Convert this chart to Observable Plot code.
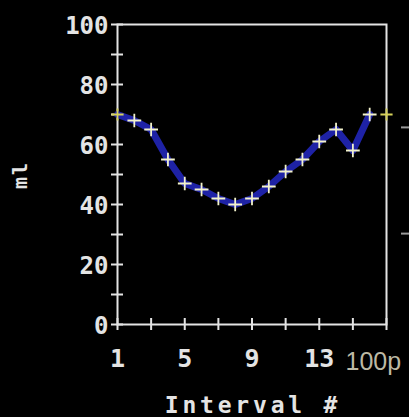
<!DOCTYPE html>
<html>
<head>
<meta charset="utf-8">
<script src="https://cdn.jsdelivr.net/npm/d3@7"></script>
<script src="https://cdn.jsdelivr.net/npm/@observablehq/plot@0.6"></script>
<style>
  html, body { margin: 0; padding: 0; background: #000; }
  #chart { width: 409px; height: 417px; overflow: hidden; }
  svg { display: block; }
</style>
</head>
<body>
<div id="chart"></div>
<script>
// Data
const intervals = [1, 2, 3, 4, 5, 6, 7, 8, 9, 10, 11, 12, 13, 14, 15, 16];
const volumes   = [70, 68, 65, 55, 47, 45, 42, 40, 42, 46, 51, 55, 61, 65, 58, 70];
const endIntervals = [1, 17];
const endVolumes = [70, 70];

const yMinorTicks = [0, 10, 20, 30, 40, 50, 60, 70, 80, 90, 100];
const yLabels = [0, 20, 40, 60, 80, 100];
const xMinorTicks = [1, 3, 5, 7, 9, 11, 13, 15, 17];
const xLabels = [1, 5, 9, 13];
const rightTicks = [65.7, 30.3];   // partial axis of neighbouring chart
const clippedLabel = ["100p"];

const yTitle = "ml";
const xTitle = "Interval #";

const series = intervals.map((x, i) => ({x, y: volumes[i]}));
const inner = series.slice(1);
const ends = endIntervals.map((x, i) => ({x, y: endVolumes[i]}));

const AXIS = "#e4e4e4";
const MONO = "'DejaVu Sans Mono', 'Liberation Mono', monospace";

const chart = Plot.plot({
  width: 409,
  height: 417,
  marginLeft: 117,
  marginRight: 23,
  marginTop: 24,
  marginBottom: 93,
  style: {background: "#000", color: AXIS, fontFamily: MONO, overflow: "visible"},
  x: {domain: [1, 17], axis: null},
  y: {domain: [0, 100], axis: null},
  marks: [
    Plot.frame({stroke: AXIS, strokeWidth: 2}),
    // y ticks crossing the axis
    Plot.axisY({ticks: yMinorTicks, tickSize: 6, tickFormat: () => "", stroke: AXIS, strokeWidth: 2, label: null}),
    Plot.axisY({ticks: yMinorTicks, tickSize: 6, dx: 6, tickFormat: () => "", stroke: AXIS, strokeWidth: 2, label: null}),
    // x ticks crossing the axis
    Plot.axisX({ticks: xMinorTicks, tickSize: 6, tickFormat: () => "", stroke: AXIS, strokeWidth: 2, label: null}),
    Plot.axisX({ticks: xMinorTicks, tickSize: 6, dy: -6, tickFormat: () => "", stroke: AXIS, strokeWidth: 2, label: null}),
    // neighbouring chart's axis ticks
    Plot.axisY({anchor: "right", ticks: rightTicks, tickSize: 9, dx: 14, tickFormat: () => "", stroke: "#9a9a9a", strokeWidth: 2, label: null}),
    // tick labels
    Plot.text(yLabels, {x: 1, y: d => d, text: d => String(d), textAnchor: "end", dx: -9, dy: 2,
      fill: AXIS, fontSize: 24, fontWeight: "bold", fontFamily: MONO, letterSpacing: "2px"}),
    Plot.text(xLabels, {x: d => d, y: 0, text: d => String(d), dy: 34,
      fill: AXIS, fontSize: 25, fontWeight: "bold", fontFamily: MONO}),
    Plot.text(clippedLabel, {x: 17, y: 0, text: d => d, textAnchor: "start", dx: -41, dy: 37,
      fill: "#bdb9a4", fontSize: 25, fontFamily: "'Liberation Sans', Arial, sans-serif"}),
    // the data line
    Plot.line(series, {x: "x", y: "y", stroke: "#1e22a6", strokeWidth: 7, strokeLinejoin: "round", strokeLinecap: "round"}),
    Plot.dot(inner, {x: "x", y: "y", symbol: "plus", r: 4.5, stroke: "#f2f2cc", strokeWidth: 1.8}),
    Plot.dot(ends, {x: "x", y: "y", symbol: "plus", r: 4, stroke: "#d6d25a", strokeWidth: 1.8})
  ]
});

// titles drawn as text
const svg = d3.select(chart);
svg.append("text")
  .attr("x", 253).attr("y", 413)
  .attr("text-anchor", "middle")
  .attr("fill", AXIS)
  .style("font-family", MONO).style("font-size", "23px").style("font-weight", "bold")
  .style("letter-spacing", "3.8px")
  .text(xTitle);
svg.append("text")
  .attr("transform", "translate(27,175) rotate(-90)")
  .attr("text-anchor", "middle")
  .attr("fill", AXIS)
  .style("font-family", MONO).style("font-size", "20px").style("font-weight", "bold")
  .style("letter-spacing", "2px")
  .text(yTitle);

document.getElementById("chart").appendChild(chart);
</script>
</body>
</html>
